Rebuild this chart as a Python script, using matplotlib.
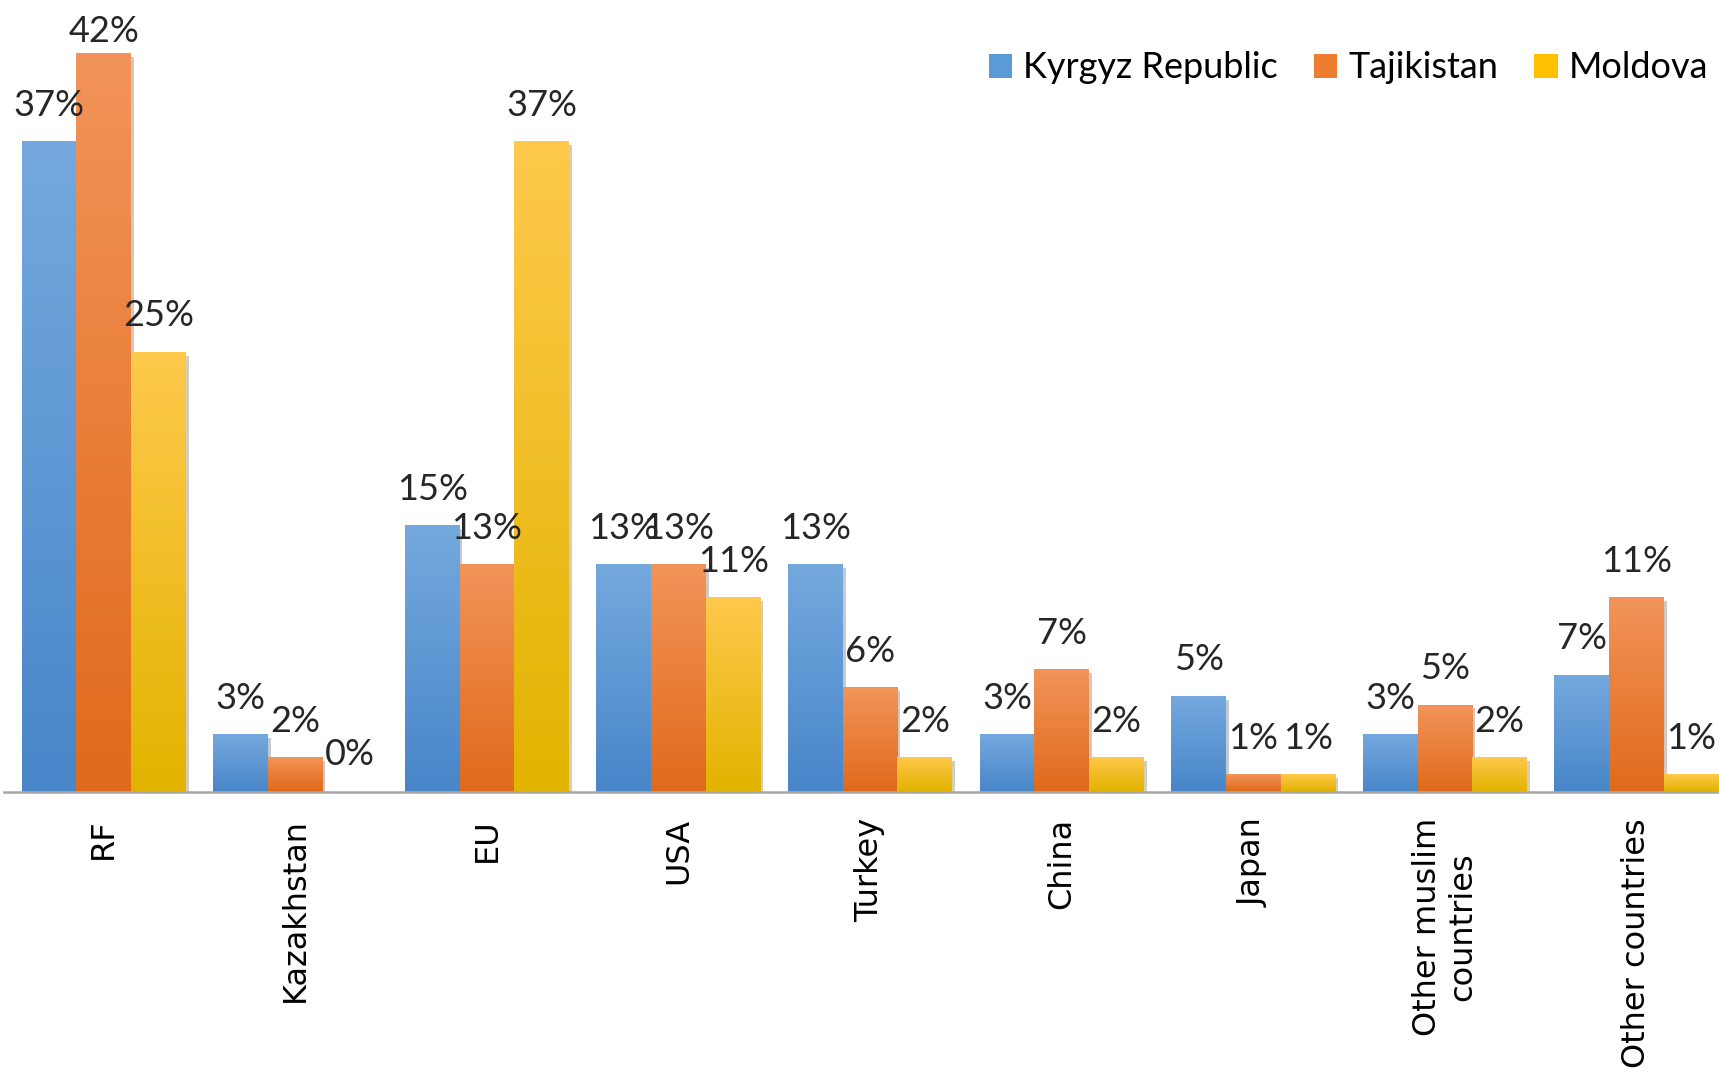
import numpy as np
import matplotlib
matplotlib.use('Agg')
import matplotlib.pyplot as plt
import matplotlib.patheffects as pe
from matplotlib.colors import LinearSegmentedColormap
from matplotlib.patches import Patch

# Datos
categories = ['RF', 'Kazakhstan', 'EU', 'USA', 'Turkey', 'China', 'Japan',
              'Other muslim\ncountries', 'Other countries']
series = ['Kyrgyz Republic', 'Tajikistan', 'Moldova']
kyrgyz = [37, 3.2, 15.1, 12.9, 12.9, 3.2, 5.4, 3.2, 6.6]
tajik = [42, 1.9, 12.9, 12.9, 5.9, 6.9, 0.94, 4.9, 11]
moldova = [25, 0, 37, 11, 1.9, 1.9, 0.94, 1.9, 0.94]

# colores (arriba, abajo) del degradado
grad_colors = [('#75A9DE', '#4886C9'), ('#F29459', '#E06A1B'), ('#FFC94C', '#E2B300')]
mid_colors = ['#5B9BD5', '#ED7D31', '#FFC000']

W, H = 1719, 1073
fig = plt.figure(figsize=(W / 100, H / 100), dpi=100)
base_px = 791.5
px_per_pct = 17.55
ax = fig.add_axes([4 / W, (H - base_px) / H, (W - 4) / W, base_px / H])

n = len(categories)
x = np.arange(n)
w = 1 / 3.5
label_font = 'Lato'

for j, vals in enumerate([kyrgyz, tajik, moldova]):
    bars = ax.bar(x + (j - 1) * w, vals, width=w, color=mid_colors[j], zorder=2,
                  path_effects=[pe.SimplePatchShadow(offset=(2, -2), alpha=0.25), pe.Normal()])
    cmap = LinearSegmentedColormap.from_list('g%d' % j, [grad_colors[j][1], grad_colors[j][0]])
    grad = np.linspace(0, 1, 256).reshape(-1, 1)
    for b, v in zip(bars, vals):
        if v > 0:
            ax.imshow(grad, cmap=cmap, origin='lower', aspect='auto', zorder=3,
                      extent=[b.get_x(), b.get_x() + b.get_width(), 0, b.get_height()])
        ax.text(b.get_x() + b.get_width() / 2, min(v + 1.5, 42.7), f"{round(v)}%",
                ha='center', va='baseline', fontsize=26, family=label_font,
                color='#262626', zorder=5)

ax.set_xlim(-0.52, 8.43)
ax.set_ylim(0, base_px / px_per_pct)
ax.set_xticks(x)
ax.set_xticklabels(categories, rotation=90, fontsize=23, family='DejaVu Sans',
                   ha='center', va='top', multialignment='center')
ax.tick_params(axis='x', length=0, pad=19)
ax.set_yticks([])
for s in ['top', 'right', 'left']:
    ax.spines[s].set_visible(False)
ax.spines['bottom'].set_color('#A6A6A6')
ax.spines['bottom'].set_linewidth(1.8)
ax.spines['bottom'].set_zorder(4)

handles = [Patch(facecolor=c) for c in mid_colors]
fig.legend(handles, series, loc='center right', bbox_to_anchor=(1708 / W, 1 - 68 / H),
           bbox_transform=fig.transFigure, ncol=3, frameon=False, borderpad=0,
           borderaxespad=0, handlelength=0.65, handleheight=0.65, handletextpad=0.3,
           columnspacing=1.0, prop={'family': label_font, 'size': 26})

fig.savefig('out.png', dpi=100)
